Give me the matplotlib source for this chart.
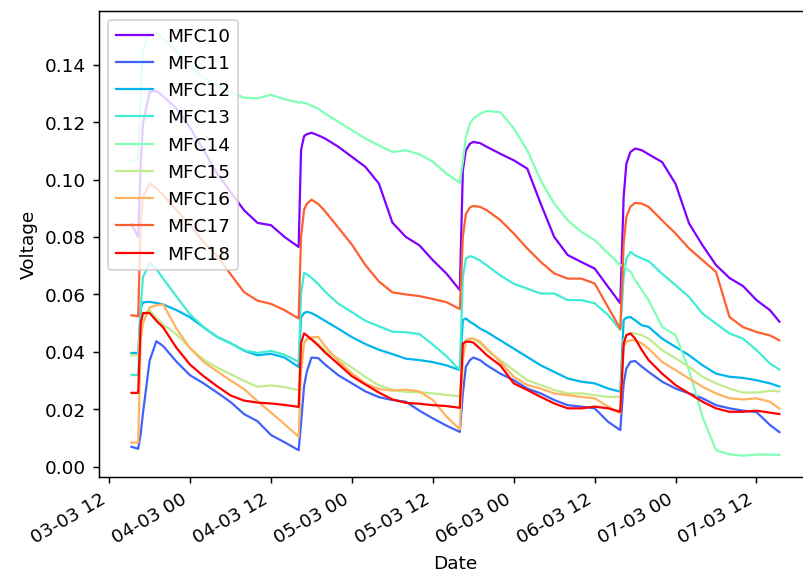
import numpy as np
import pandas as pd
import matplotlib
matplotlib.use("Agg")
import matplotlib.pyplot as plt
import matplotlib.dates as mdates

# hours after 2021-03-03 00:00
hours = [15.3, 16.3, 16.67, 17, 18, 19, 20, 22, 24, 26, 28, 30, 32, 34, 36, 38, 40.1,
         40.45, 40.9, 41.3, 42, 43, 44, 46, 48, 50, 52, 54, 56, 58, 60, 62, 64.0,
         64.45, 64.9, 65.5, 66, 67, 68, 70, 72, 74, 76, 78, 80, 82, 84, 86, 87.8,
         88.3, 88.7, 89.3, 90, 91, 92, 94, 96, 98, 100, 102, 104, 106, 108, 110, 111.4]

mfc10 = [0.0845, 0.080, 0.105, 0.1195, 0.1306, 0.1308, 0.129, 0.1247, 0.118, 0.1103, 0.1021, 0.0957, 0.0893, 0.0849, 0.0841, 0.080, 0.0765,
         0.1102, 0.1151, 0.1158, 0.1163, 0.1154, 0.1143, 0.1114, 0.1079, 0.1044, 0.0986, 0.085, 0.080, 0.0771, 0.0719, 0.0673, 0.0615,
         0.1032, 0.1102, 0.1125, 0.1131, 0.1127, 0.1114, 0.109, 0.1067, 0.1038, 0.0916, 0.080, 0.0737, 0.0713, 0.069, 0.0626, 0.0569,
         0.0939, 0.1055, 0.1096, 0.1108, 0.1102, 0.1088, 0.1061, 0.0985, 0.0847, 0.0771, 0.0702, 0.0657, 0.0629, 0.058, 0.0545, 0.0505]
mfc11 = [0.0069, 0.0062, 0.0115, 0.0185, 0.037, 0.0437, 0.042, 0.0365, 0.0318, 0.029, 0.0258, 0.0225, 0.0183, 0.0158, 0.011, 0.0085, 0.0057,
         0.015, 0.028, 0.033, 0.038, 0.0378, 0.0356, 0.0318, 0.029, 0.0262, 0.0242, 0.0232, 0.0226, 0.0195, 0.0168, 0.0143, 0.0121,
         0.0255, 0.0348, 0.0371, 0.038, 0.0371, 0.0353, 0.0324, 0.0301, 0.0272, 0.0255, 0.0232, 0.0214, 0.0209, 0.0203, 0.0156, 0.0127,
         0.029, 0.0342, 0.0365, 0.0368, 0.0348, 0.033, 0.0296, 0.0272, 0.0255, 0.0238, 0.0214, 0.0203, 0.0195, 0.019, 0.0145, 0.012]
mfc12 = [0.0396, 0.0396, 0.055, 0.0572, 0.0574, 0.057, 0.0565, 0.0545, 0.052, 0.0485, 0.0452, 0.043, 0.0404, 0.0388, 0.0393, 0.038, 0.0347,
         0.052, 0.0535, 0.0539, 0.0535, 0.0522, 0.0508, 0.048, 0.0451, 0.0427, 0.0407, 0.0392, 0.0376, 0.0371, 0.0364, 0.0353, 0.0336,
         0.051, 0.0516, 0.0504, 0.0498, 0.0481, 0.0469, 0.044, 0.0411, 0.0382, 0.0353, 0.033, 0.0307, 0.0296, 0.029, 0.0272, 0.0261,
         0.051, 0.0519, 0.0521, 0.051, 0.0492, 0.0487, 0.0446, 0.0417, 0.0388, 0.0353, 0.0324, 0.0313, 0.0309, 0.0301, 0.029, 0.0279]
mfc13 = [0.0319, 0.0319, 0.055, 0.066, 0.0708, 0.0688, 0.0655, 0.0592, 0.053, 0.0486, 0.0452, 0.043, 0.0405, 0.0396, 0.0403, 0.039, 0.0365,
         0.06, 0.0675, 0.067, 0.0658, 0.0636, 0.061, 0.0567, 0.0538, 0.0508, 0.0489, 0.047, 0.0468, 0.0462, 0.0425, 0.0385, 0.0336,
         0.0661, 0.0725, 0.0733, 0.073, 0.0718, 0.0701, 0.0666, 0.0637, 0.062, 0.0603, 0.0603, 0.058, 0.058, 0.0569, 0.0528, 0.0476,
         0.0661, 0.0725, 0.0748, 0.0736, 0.0725, 0.0716, 0.0672, 0.0632, 0.0591, 0.0533, 0.0498, 0.0464, 0.0446, 0.0406, 0.0359, 0.0338]
mfc14 = [0.1067, 0.1067, 0.13, 0.145, 0.1515, 0.151, 0.149, 0.1445, 0.1395, 0.1355, 0.1325, 0.1305, 0.1285, 0.1283, 0.1295, 0.128, 0.1268,
         0.127, 0.1267, 0.1265, 0.1257, 0.1247, 0.123, 0.1201, 0.1172, 0.1143, 0.1119, 0.1096, 0.1102, 0.1088, 0.1062, 0.1021, 0.0989,
         0.1061, 0.1148, 0.1195, 0.1212, 0.1229, 0.1239, 0.1235, 0.1178, 0.1102, 0.0997, 0.0916, 0.0858, 0.0818, 0.0789, 0.0743, 0.0702,
         0.0700, 0.069, 0.068, 0.065, 0.0615, 0.058, 0.0487, 0.0458, 0.0336, 0.0173, 0.0057, 0.0043, 0.0038, 0.0042, 0.0042, 0.0041]
mfc15 = [0.0388, 0.0388, 0.05, 0.053, 0.0545, 0.0518, 0.0495, 0.046, 0.0413, 0.0373, 0.0345, 0.0322, 0.0299, 0.0278, 0.0283, 0.0277, 0.0266,
         0.038, 0.043, 0.0443, 0.0446, 0.0428, 0.0405, 0.0376, 0.0345, 0.0312, 0.0283, 0.0268, 0.026, 0.0259, 0.0255, 0.025, 0.0245,
         0.0417, 0.044, 0.0446, 0.0446, 0.0429, 0.0406, 0.0371, 0.0336, 0.0301, 0.0284, 0.0267, 0.0255, 0.0255, 0.0249, 0.0243, 0.0243,
         0.044, 0.0458, 0.0466, 0.0464, 0.0458, 0.0446, 0.0406, 0.0377, 0.0348, 0.0313, 0.029, 0.0272, 0.0258, 0.0258, 0.0264, 0.0262]
mfc16 = [0.0084, 0.0084, 0.044, 0.05, 0.0555, 0.0562, 0.0565, 0.048, 0.0412, 0.0365, 0.0332, 0.030, 0.027, 0.0228, 0.0188, 0.0148, 0.0104,
         0.033, 0.043, 0.0445, 0.045, 0.0452, 0.042, 0.0368, 0.0325, 0.029, 0.027, 0.0265, 0.0268, 0.0262, 0.0232, 0.0175, 0.013,
         0.0371, 0.044, 0.0446, 0.0446, 0.0435, 0.0411, 0.0365, 0.0313, 0.0284, 0.0272, 0.0255, 0.0249, 0.0243, 0.0238, 0.0209, 0.0186,
         0.0417, 0.0435, 0.044, 0.044, 0.0429, 0.0411, 0.0365, 0.0336, 0.0307, 0.0278, 0.0255, 0.0238, 0.0234, 0.0238, 0.0226, 0.0202]
mfc17 = [0.0527, 0.0524, 0.085, 0.094, 0.0985, 0.097, 0.0945, 0.0893, 0.0842, 0.0782, 0.0735, 0.067, 0.0608, 0.0578, 0.0567, 0.0545, 0.0516,
         0.080, 0.0895, 0.0915, 0.093, 0.0915, 0.089, 0.0832, 0.0773, 0.0702, 0.0645, 0.0607, 0.060, 0.0594, 0.0584, 0.0573, 0.0549,
         0.080, 0.088, 0.0903, 0.0908, 0.0905, 0.0893, 0.0859, 0.0812, 0.076, 0.0713, 0.0673, 0.0655, 0.0655, 0.0638, 0.0555, 0.048,
         0.0777, 0.087, 0.0905, 0.0919, 0.0916, 0.0905, 0.0858, 0.0812, 0.076, 0.0719, 0.0678, 0.0521, 0.0486, 0.0469, 0.0457, 0.044]
mfc18 = [0.0257, 0.0257, 0.05, 0.0535, 0.0535, 0.0508, 0.0485, 0.0413, 0.0355, 0.0315, 0.028, 0.0248, 0.023, 0.0223, 0.022, 0.0215, 0.0208,
         0.043, 0.0464, 0.0457, 0.0443, 0.0422, 0.0398, 0.0357, 0.0315, 0.0286, 0.0258, 0.0234, 0.0222, 0.0219, 0.0214, 0.0211, 0.0205,
         0.0429, 0.0435, 0.0435, 0.0432, 0.0411, 0.0388, 0.0353, 0.029, 0.0267, 0.0243, 0.022, 0.0203, 0.0203, 0.0209, 0.0203, 0.0191,
         0.0429, 0.0458, 0.0464, 0.0446, 0.0406, 0.0371, 0.0324, 0.0284, 0.0255, 0.0226, 0.0203, 0.0191, 0.0191, 0.0195, 0.0188, 0.0183]

labels = ["MFC10", "MFC11", "MFC12", "MFC13", "MFC14", "MFC15", "MFC16", "MFC17", "MFC18"]
series = [mfc10, mfc11, mfc12, mfc13, mfc14, mfc15, mfc16, mfc17, mfc18]

dates = pd.Timestamp("2021-03-03") + pd.to_timedelta(hours, unit="h")

DPI = 133
fig = plt.figure(figsize=(803.5 / DPI, 580.5 / DPI), dpi=DPI)
ax = fig.add_axes([99 / 803, 1 - 477 / 580, (811.3 - 99) / 803, (477 - 11) / 580])

colors = plt.cm.rainbow(np.linspace(0, 1, len(series)))
for vals, lab, c in zip(series, labels, colors):
    ax.plot(dates, vals, color=c, label=lab, linewidth=1.2)

ax.xaxis.set_major_locator(mdates.HourLocator(byhour=[0, 12]))
ax.xaxis.set_major_formatter(mdates.DateFormatter("%d-%m %H"))
for lbl in ax.get_xticklabels():
    lbl.set_rotation(30)
    lbl.set_ha("right")

ax.set_xlabel("Date")
ax.set_ylabel("Voltage")
ax.legend(loc="upper left")

fig.savefig("out.png", dpi=DPI)
